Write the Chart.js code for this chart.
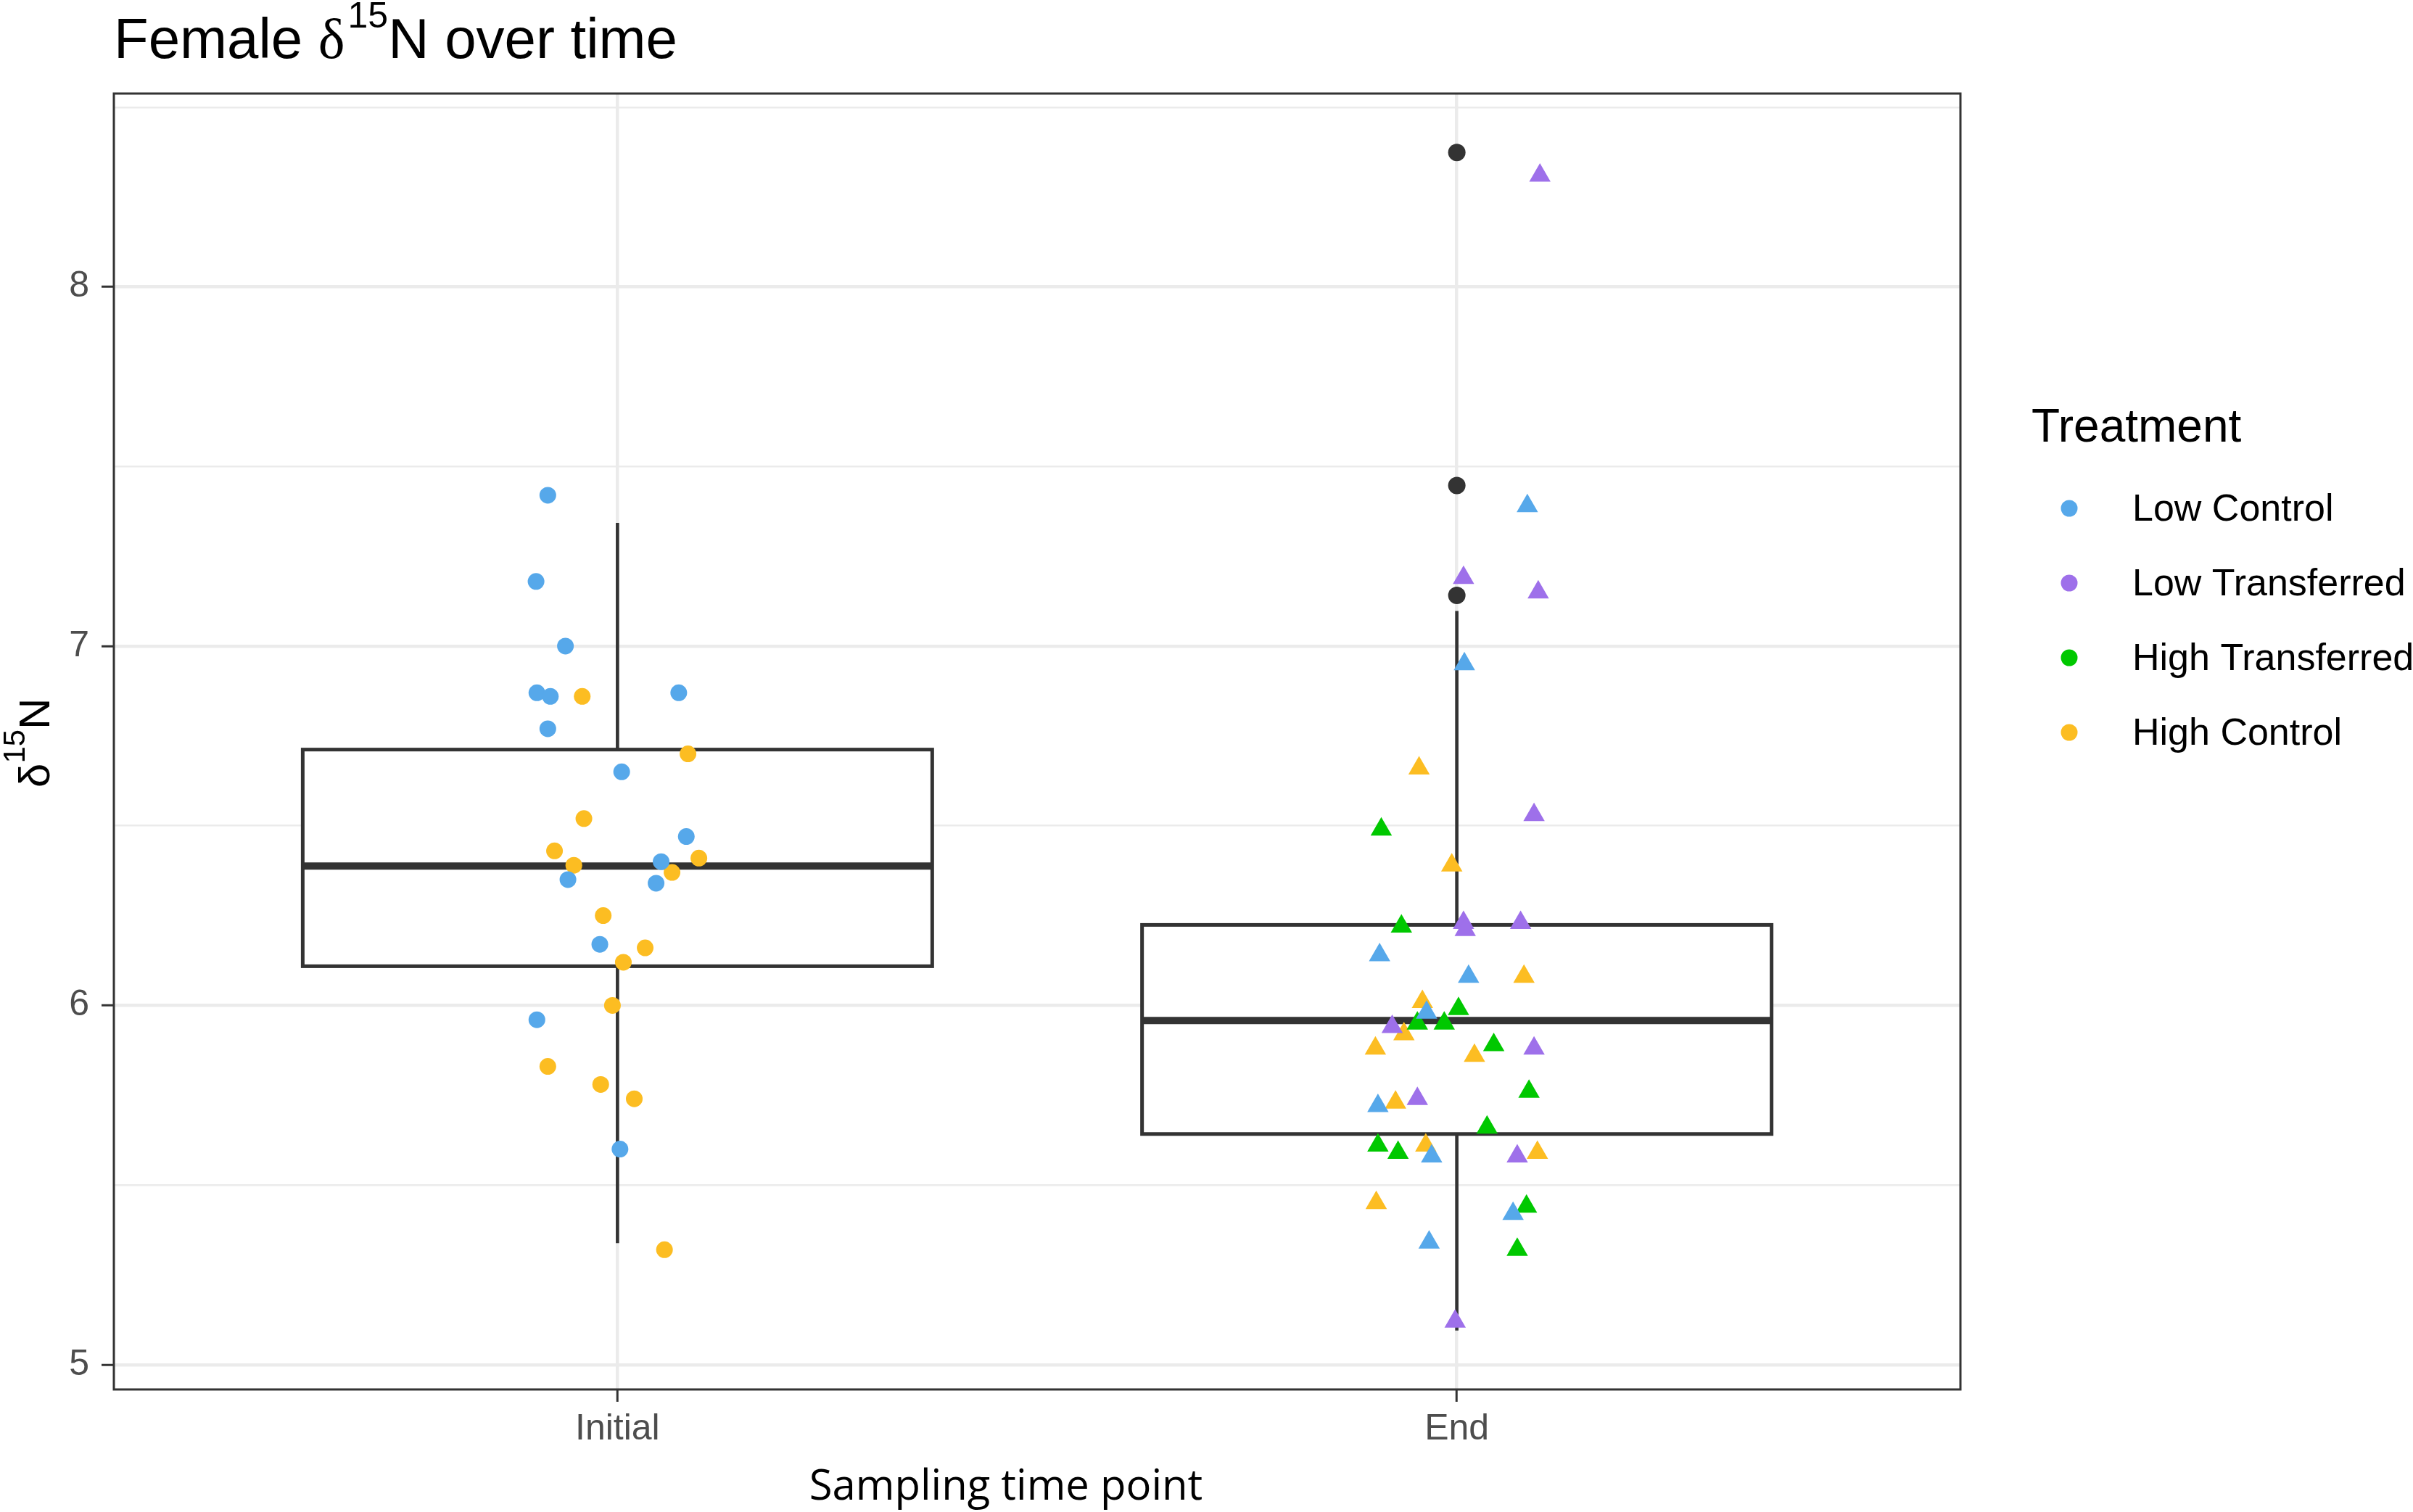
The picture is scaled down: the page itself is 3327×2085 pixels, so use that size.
<!DOCTYPE html>
<html>
<head>
<meta charset="utf-8">
<title>Female δ15N over time</title>
<script src="https://cdn.jsdelivr.net/npm/chart.js@4.4.1/dist/chart.umd.min.js"></script>
<style>
  html, body { margin: 0; padding: 0; background: #ffffff; }
  #wrap { width: 3327px; height: 2085px; }
</style>
</head>
<body>
<div id="wrap"><canvas id="d15n-chart" width="3327" height="2085"></canvas></div>
<script>
// x categories (drawn at 1 and 2 on a linear axis)
const timePoints = ['Initial', 'End'];
const treatments = ['Low Control', 'Low Transferred', 'High Transferred', 'High Control'];
const treatmentColors = ['#56A8EA', '#9E70EA', '#00C800', '#FCBD22'];
const yTicks = [5, 6, 7, 8];

// jittered observations: value + horizontal jitter (category units)
const lowControlInitialY  = [7.42, 7.18, 7.00, 6.87, 6.86, 6.87, 6.77, 6.65, 6.47, 6.40, 6.35, 6.34, 6.17, 5.96, 5.60];
const lowControlInitialDx = [-0.083, -0.097, -0.062, -0.096, -0.080, 0.073, -0.083, 0.005, 0.082, 0.052, -0.059, 0.046, -0.021, -0.096, 0.003];
const highControlInitialY  = [6.86, 6.70, 6.52, 6.43, 6.39, 6.41, 6.37, 6.25, 6.16, 6.12, 6.00, 5.83, 5.78, 5.74, 5.32];
const highControlInitialDx = [-0.042, 0.084, -0.040, -0.075, -0.052, 0.097, 0.065, -0.017, 0.033, 0.007, -0.006, -0.083, -0.020, 0.020, 0.056];

const lowControlEndY  = [7.39, 6.95, 6.14, 6.08, 5.98, 5.72, 5.58, 5.42, 5.34];
const lowControlEndDx = [0.084, 0.009, -0.092, 0.014, -0.036, -0.094, -0.030, 0.067, -0.033];
const lowTransferredEndY  = [8.31, 7.19, 7.15, 6.53, 6.23, 6.21, 6.23, 5.94, 5.88, 5.74, 5.58, 5.12];
const lowTransferredEndDx = [0.099, 0.008, 0.097, 0.092, 0.008, 0.010, 0.076, -0.077, 0.092, -0.047, 0.072, -0.002];
const highTransferredEndY  = [6.49, 6.22, 5.99, 5.95, 5.95, 5.89, 5.76, 5.66, 5.61, 5.59, 5.44, 5.32];
const highTransferredEndDx = [-0.090, -0.066, 0.002, -0.047, -0.015, 0.044, 0.086, 0.036, -0.094, -0.070, 0.083, 0.072];
const highControlEndY  = [6.66, 6.39, 6.08, 6.01, 5.92, 5.88, 5.86, 5.73, 5.61, 5.59, 5.45];
const highControlEndDx = [-0.045, -0.006, 0.080, -0.041, -0.063, -0.097, 0.021, -0.073, -0.037, 0.096, -0.096];

// boxplot summaries per time point
const boxLower  = [5.338, 5.095];
const boxQ1     = [6.109, 5.642];
const boxMedian = [6.388, 5.958];
const boxQ3     = [6.712, 6.224];
const boxUpper  = [7.343, 7.098];
const outlierEndY = [8.374, 7.447, 7.141];

const yRange = [4.931, 8.538];
const xRange = [0.4, 2.6];

// build {x, y} points for one treatment from its initial / end arrays
function jitterPoints(initY, initDx, endY, endDx) {
    const pts = [];
    initY.forEach((v, i) => pts.push({ x: 1 + initDx[i], y: v }));
    endY.forEach((v, i) => pts.push({ x: 2 + endDx[i], y: v }));
    return pts;
}

const treatmentPoints = [
    jitterPoints(lowControlInitialY, lowControlInitialDx, lowControlEndY, lowControlEndDx),
    jitterPoints([], [], lowTransferredEndY, lowTransferredEndDx),
    jitterPoints([], [], highTransferredEndY, highTransferredEndDx),
    jitterPoints(highControlInitialY, highControlInitialDx, highControlEndY, highControlEndDx)
];

const SANS = '"Liberation Sans", Arial, sans-serif';
const INK = '#333333';

// circles for Initial, triangles for End
const isInitial = ctx => ctx.raw && ctx.raw.x < 1.5;

const datasets = treatments.map((name, i) => ({
    label: name,
    data: treatmentPoints[i],
    backgroundColor: treatmentColors[i],
    borderColor: treatmentColors[i],
    borderWidth: 0,
    pointStyle: ctx => isInitial(ctx) ? 'circle' : 'triangle',
    pointRadius: ctx => isInitial(ctx) ? 11.5 : 17,
    order: 0
}));

// boxplot outliers (black dots)
datasets.push({
    label: 'outliers',
    data: outlierEndY.map(v => ({ x: 2, y: v })),
    backgroundColor: INK,
    borderColor: INK,
    borderWidth: 0,
    pointStyle: 'circle',
    pointRadius: 12,
    order: 5
});

// text with a raised "15"
function drawRich(ctx, parts, x, y) {
    let cx = x;
    parts.forEach(p => {
        ctx.font = p.font;
        ctx.fillText(p.text, cx, y + (p.dy || 0));
        cx += ctx.measureText(p.text).width + (p.gap || 0);
    });
}

const ggDecor = {
    id: 'ggDecor',
    beforeDatasetsDraw(chart) {
        const { ctx, chartArea, scales: { x, y } } = chart;
        const boxWidth = 0.75;
        ctx.save();
        ctx.beginPath();
        ctx.rect(chartArea.left, chartArea.top, chartArea.width, chartArea.height);
        ctx.clip();
        ctx.strokeStyle = INK;
        timePoints.forEach((tp, i) => {
            const cx = x.getPixelForValue(i + 1);
            const left = x.getPixelForValue(i + 1 - boxWidth / 2);
            const right = x.getPixelForValue(i + 1 + boxWidth / 2);
            const yLo = y.getPixelForValue(boxLower[i]);
            const yQ1 = y.getPixelForValue(boxQ1[i]);
            const yMed = y.getPixelForValue(boxMedian[i]);
            const yQ3 = y.getPixelForValue(boxQ3[i]);
            const yHi = y.getPixelForValue(boxUpper[i]);
            // whiskers
            ctx.lineWidth = 4.6;
            ctx.beginPath();
            ctx.moveTo(cx, yHi); ctx.lineTo(cx, yQ3);
            ctx.moveTo(cx, yQ1); ctx.lineTo(cx, yLo);
            ctx.stroke();
            // box
            ctx.fillStyle = '#ffffff';
            ctx.fillRect(left, yQ3, right - left, yQ1 - yQ3);
            ctx.lineWidth = 5;
            ctx.strokeRect(left, yQ3, right - left, yQ1 - yQ3);
            // median
            ctx.lineWidth = 10;
            ctx.beginPath();
            ctx.moveTo(left, yMed); ctx.lineTo(right, yMed);
            ctx.stroke();
        });
        ctx.restore();
    },
    afterDatasetsDraw(chart) {
        const { ctx, chartArea } = chart;
        ctx.save();
        ctx.strokeStyle = INK;
        ctx.lineWidth = 3;
        ctx.strokeRect(chartArea.left, chartArea.top, chartArea.width, chartArea.height);
        ctx.restore();
    },
    afterDraw(chart) {
        const ctx = chart.ctx;
        ctx.save();
        ctx.fillStyle = '#000000';
        ctx.textBaseline = 'alphabetic';
        ctx.textAlign = 'left';

        // plot title
        drawRich(ctx, [
            { text: 'Female ', font: '78px ' + SANS },
            { text: 'δ', font: '78px "Liberation Serif", serif', gap: 4 },
            { text: '15', font: '50px ' + SANS, dy: -42 },
            { text: 'N over time', font: '78px ' + SANS }
        ], 157, 80);

        // y axis title (rotated)
        ctx.save();
        ctx.translate(68, 1086);
        ctx.rotate(-Math.PI / 2);
        drawRich(ctx, [
            { text: 'δ', font: '60px ' + SANS },
            { text: '15', font: '42px ' + SANS, dy: -34 },
            { text: 'N', font: '60px ' + SANS }
        ], 0, 0);
        ctx.restore();

        // x axis title
        ctx.font = '58px "Open Sans", sans-serif';
        ctx.textAlign = 'center';
        ctx.fillText('Sampling time point', 1387, 2068);

        // legend
        ctx.textAlign = 'left';
        ctx.font = '64px ' + SANS;
        ctx.fillText('Treatment', 2801, 609);
        ctx.font = '52px ' + SANS;
        ctx.textBaseline = 'middle';
        treatments.forEach((name, i) => {
            const cy = 701 + i * 103;
            ctx.fillStyle = treatmentColors[i];
            ctx.beginPath();
            ctx.arc(2853, cy, 11.5, 0, Math.PI * 2);
            ctx.fill();
            ctx.fillStyle = '#000000';
            ctx.fillText(name, 2940, cy + 3);
        });
        ctx.restore();
    }
};

const tickFont = { family: SANS, size: 50 };

new Chart(document.getElementById('d15n-chart').getContext('2d'), {
    type: 'scatter',
    data: { datasets: datasets },
    plugins: [ggDecor],
    options: {
        responsive: false,
        animation: false,
        devicePixelRatio: 1,
        layout: { padding: { top: 129, right: 624, left: 0, bottom: 0 } },
        plugins: {
            legend: { display: false },
            title: { display: false },
            tooltip: { enabled: false }
        },
        scales: {
            x: {
                type: 'linear',
                min: xRange[0],
                max: xRange[1],
                afterBuildTicks: s => { s.ticks = timePoints.map((t, i) => ({ value: i + 1 })); },
                afterFit: s => { s.height = 169; },
                ticks: {
                    autoSkip: false,
                    maxRotation: 0,
                    font: tickFont,
                    color: '#4D4D4D',
                    padding: 8,
                    callback: v => timePoints[Math.round(v) - 1]
                },
                grid: {
                    color: '#EBEBEB',
                    lineWidth: 4.5,
                    tickColor: INK,
                    tickLength: 17,
                    tickWidth: 3
                },
                border: { display: false }
            },
            y: {
                min: yRange[0],
                max: yRange[1],
                afterBuildTicks: s => { s.ticks = yTicks.flatMap(t => [t, t + 0.5]).map(v => ({ value: v })); },
                afterFit: s => { s.width = 157; },
                ticks: {
                    autoSkip: false,
                    font: tickFont,
                    color: '#4D4D4D',
                    padding: 17,
                    callback: v => yTicks.includes(v) ? String(v) : ''
                },
                grid: {
                    color: '#EBEBEB',
                    lineWidth: ctx => yTicks.includes(ctx.tick.value) ? 4.5 : 2.5,
                    tickColor: ctx => yTicks.includes(ctx.tick.value) ? INK : 'rgba(0,0,0,0)',
                    tickLength: 17,
                    tickWidth: 3
                },
                border: { display: false }
            }
        }
    }
});
</script>
</body>
</html>
